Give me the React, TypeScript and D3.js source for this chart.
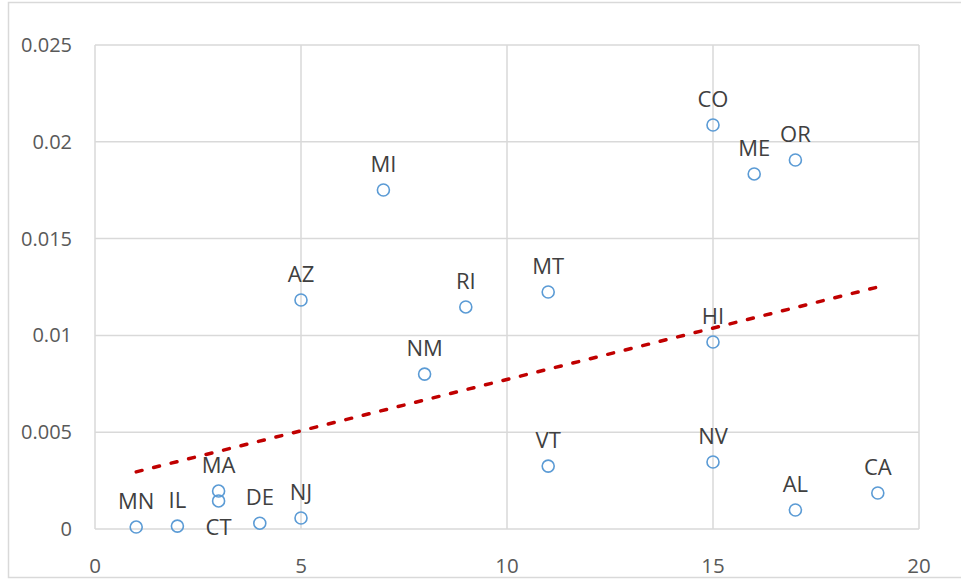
import React from "react";
import * as d3 from "d3";

const labels = ["MN", "IL", "MA", "CT", "DE", "NJ", "AZ", "MI", "NM", "RI", "MT", "VT", "CO", "ME", "OR", "HI", "NV", "AL", "CA"];
const xValues = [1, 2, 3, 3, 4, 5, 5, 7, 8, 9, 11, 11, 15, 16, 17, 15, 15, 17, 19];
const yValues = [0.0001, 0.00015, 0.00196, 0.00145, 0.0003, 0.00057, 0.01183, 0.01751, 0.008, 0.01147, 0.01224, 0.00325, 0.02087, 0.01834, 0.01906, 0.00966, 0.00346, 0.00098, 0.00186];
const labelBelow = ["CT"];
const xTicks = [0, 5, 10, 15, 20];
const yTicks = [0, 0.005, 0.01, 0.015, 0.02, 0.025];

export default function App() {
  const W = 961, H = 579;
  const left = 95, right = 919, top = 45, bottom = 529;
  const x = d3.scaleLinear().domain([0, 20]).range([left, right]);
  const y = d3.scaleLinear().domain([0, 0.025]).range([bottom, top]);

  const n = xValues.length;
  const mx = d3.mean(xValues)!;
  const my = d3.mean(yValues)!;
  let sxy = 0, sxx = 0;
  for (let i = 0; i < n; i++) {
    sxy += (xValues[i] - mx) * (yValues[i] - my);
    sxx += (xValues[i] - mx) ** 2;
  }
  const slope = sxy / sxx;
  const intercept = my - slope * mx;
  const x0 = d3.min(xValues)!, x1 = d3.max(xValues)!;
  const trend = d3.line<number>().x((d) => x(d)).y((d) => y(intercept + slope * d))([x0, x1]);

  const font = "'Open Sans', 'Liberation Sans', sans-serif";

  return (
    <svg width={W} height={H} style={{ position: "absolute", left: 0, top: 0 }} fontFamily={font}>
      <rect x={0} y={0} width={W} height={H} fill="#fff" />
      <rect x={8.5} y={2.5} width={960} height={575} fill="none" stroke="#d9d9d9" strokeWidth={1.5} />
      {xTicks.map((t) => (
        <line key={"gx" + t} x1={x(t)} x2={x(t)} y1={top} y2={bottom} stroke="#d9d9d9" strokeWidth={1.5} />
      ))}
      {yTicks.map((t) => (
        <line key={"gy" + t} x1={left} x2={right} y1={y(t)} y2={y(t)} stroke="#d9d9d9" strokeWidth={1.5} />
      ))}
      {yTicks.map((t) => (
        <text key={"ty" + t} x={72} y={y(t) + 7} textAnchor="end" fontSize={20} fill="#595959">
          {t === 0 ? "0" : String(t)}
        </text>
      ))}
      {xTicks.map((t) => (
        <text key={"tx" + t} x={x(t)} y={573} textAnchor="middle" fontSize={20.5} fill="#595959">
          {t}
        </text>
      ))}
      <path d={trend!} fill="none" stroke="#C00000" strokeWidth={3.5} strokeDasharray="6 12" strokeLinecap="round" />
      {xValues.map((xv, i) => (
        <circle key={"p" + i} cx={x(xv)} cy={y(yValues[i])} r={6} fill="none" stroke="#5B9BD5" strokeWidth={1.6} />
      ))}
      {xValues.map((xv, i) => {
        const below = labelBelow.includes(labels[i]);
        return (
          <text key={"l" + i} x={x(xv)} y={y(yValues[i]) + (below ? 34 : -18)} textAnchor="middle" fontSize={22} fill="#404040">
            {labels[i]}
          </text>
        );
      })}
    </svg>
  );
}
